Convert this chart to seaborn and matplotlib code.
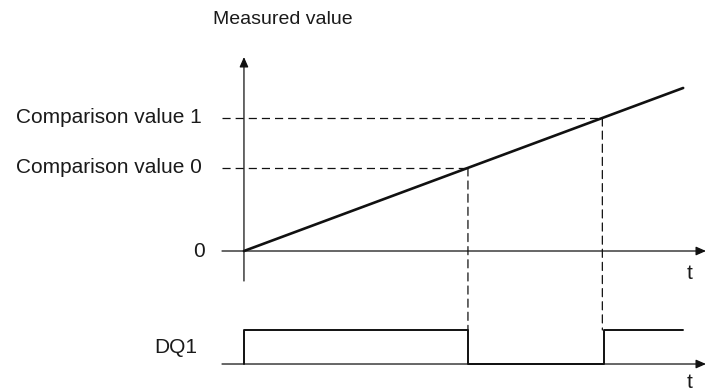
import numpy as np
import pandas as pd
import matplotlib.pyplot as plt
import seaborn as sns
from matplotlib.patches import ConnectionPatch

sns.set_style('white')
plt.rcParams['font.family'] = ['Liberation Sans', 'DejaVu Sans']
plt.rcParams['text.color'] = '#1a1a1a'

# data
ramp_t = [0, 10]
ramp_value = [0, 100]
comparison_names = ['Comparison value 0', 'Comparison value 1']
comparison_values = [51, 81.6]
dq_t = [0, 0, 5.1, 8.2, 10]
dq_level = [0, 1, 0, 1, 1]

# time where the ramp crosses each comparison value
slope = (ramp_value[1] - ramp_value[0]) / (ramp_t[1] - ramp_t[0])
cross_t = [c / slope for c in comparison_values]

W, H = 706, 391
fig = plt.figure(figsize=(W / 100, H / 100), dpi=100)
ax = fig.add_axes([222 / W, 1 - 281 / H, 484 / W, 224 / H])
ax2 = fig.add_axes([222 / W, 1 - 372 / H, 484 / W, 52 / H], sharex=ax)

for a in (ax, ax2):
    a.set_axis_off()
ax.set_xlim(-0.5, 10.52)
ax.set_ylim(-18.4, 119)
ax2.set_ylim(-0.235, 1.294)

arrow = dict(arrowstyle='-|>,head_length=0.5,head_width=0.22', color='#111111',
             lw=0.9, mutation_scale=12, shrinkA=0, shrinkB=0)
# axes arrows
ax.annotate('', xy=(1, 0), xytext=(0, 0), xycoords=ax.get_yaxis_transform(),
            arrowprops=arrow)
ax.annotate('', xy=(0, 1), xytext=(0, 0), xycoords=ax.get_xaxis_transform(),
            arrowprops=arrow)
ax2.annotate('', xy=(1, 0), xytext=(0, 0), xycoords=ax2.get_yaxis_transform(),
             arrowprops=arrow)

# measured value ramp
sns.lineplot(x=ramp_t, y=ramp_value, ax=ax, color='#111111', lw=1.9)

# comparison levels
dash = (0, (6.5, 4))
for name, c, t in zip(comparison_names, comparison_values, cross_t):
    ax.plot([-0.5, t], [c, c], color='#111111', lw=0.9, linestyle=dash)
    ax.text(-0.041, c, name, transform=ax.get_yaxis_transform(),
            ha='right', va='center', fontsize=15)
    con = ConnectionPatch(xyA=(t, c), coordsA=ax.transData,
                          xyB=(t, 1), coordsB=ax2.transData,
                          color='#111111', lw=0.9, linestyle=dash)
    fig.add_artist(con)

ax.text(-0.035, 0, '0', transform=ax.get_yaxis_transform(),
        ha='right', va='center', fontsize=15)
ax.text(-9 / 484, 1 + 37 / 224, 'Measured value', transform=ax.transAxes,
        ha='left', va='center', fontsize=14)
ax.text(0.967, 0.035, 't', transform=ax.transAxes, ha='center', va='center',
        fontsize=15)

# DQ1 output signal
sns.lineplot(x=dq_t, y=dq_level, ax=ax2, color='#111111', lw=1.4,
             drawstyle='steps-post', sort=False, estimator=None)
ax2.text(-0.052, 0.5, 'DQ1', transform=ax2.get_yaxis_transform(),
         ha='right', va='center', fontsize=15)
ax2.text(0.967, -0.55, 't', transform=ax2.get_yaxis_transform(),
         ha='center', va='center', fontsize=15)

fig.savefig('out.png', dpi=100)
